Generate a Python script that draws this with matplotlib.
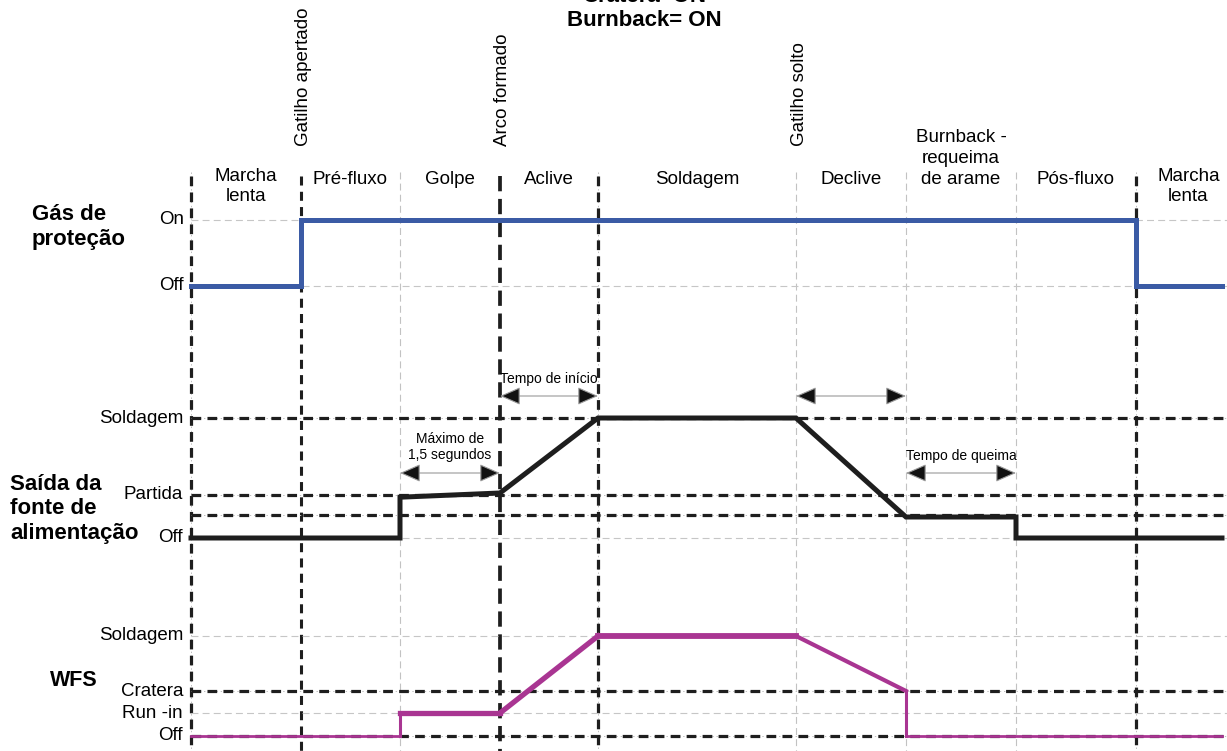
import matplotlib
matplotlib.use('Agg')
import matplotlib.pyplot as plt

plt.rcParams['lines.scale_dashes'] = False
plt.rcParams['font.family'] = ['Liberation Sans', 'DejaVu Sans']
NARROW = ['Liberation Sans Narrow', 'Liberation Sans', 'DejaVu Sans']

# tempos dos eventos (unidades arbitrárias)
event_t = [0, 1.10, 2.09, 3.09, 4.07, 6.05, 7.15, 8.25, 9.45]
t_end = 10.31
event_kind = ['dashdot', 'dash', 'thin', 'long', 'dashdot', 'thin', 'thin', 'thin', 'dashdot']
event_names = {1: 'Gatilho apertado', 3: 'Arco formado', 5: 'Gatilho solto'}

phases = ['Marcha\nlenta', 'Pré-fluxo', 'Golpe', 'Aclive', 'Soldagem', 'Declive',
          'Burnback -\nrequeima\nde arame', 'Pós-fluxo', 'Marcha\nlenta']

# gás de proteção
gas_levels = ['Off', 'On']
gas_vals = [0, 1]
gas_t = [0, 1.10, 1.10, 9.45, 9.45, t_end]
gas_v = [0, 0, 1, 1, 0, 0]

# saída da fonte
pw_labels = ['Soldagem', 'Partida', 'Off']
pw_vals = [100, 36, 0]
pw_crater = 19
pw_t = [0, 2.09, 2.09, 3.09, 4.07, 6.05, 7.15, 8.25, 8.25, t_end]
pw_v = [0, 0, 34, 37.5, 100, 100, 17.5, 17.5, 0, 0]

# WFS
wfs_labels = ['Soldagem', 'Cratera', 'Run -in', 'Off']
wfs_vals = [100, 45, 23, 0]
wfs_t = [0, 2.09, 2.09, 3.09, 4.07, 6.05, 7.15, 7.15, t_end]
wfs_v = [0, 0, 23, 23, 100, 100, 45, 0, 0]
wfs_w = [2.0, 2.2, 3.8, 3.8, 4.2, 3.0, 2.2, 2.0]

W, H = 1227, 751
X0, X1 = -1.91, 10.36

fig = plt.figure(figsize=(W / 100, H / 100), dpi=100)
bg = fig.add_axes([0, 0, 1, 1])
bg.set_xlim(X0, X1)
bg.set_ylim(H, 0)
bg.axis('off')


def panel(v_lo, p_lo, v_hi, p_hi):
    ax = fig.add_axes([0, 0, 1, 1])
    ax.patch.set_alpha(0)
    ax.axis('off')
    s = (v_hi - v_lo) / (p_lo - p_hi)
    ax.set_ylim(v_lo - (H - p_lo) * s, v_lo + p_lo * s)
    ax.set_xlim(X0, X1)
    return ax


def bold_h(ax, y):
    ax.hlines(y, 0, X1, color='#bdbdbd', lw=0.7, linestyles=(0, (1, 2)))
    ax.hlines(y, 0, X1, color='#1e1e1e', lw=2.3, linestyles=(0, (7, 4.5)))


def thin_h(ax, y):
    ax.hlines(y, 0, X1, color='#c6c6c6', lw=0.8, linestyles=(0, (5, 3)))


# linhas verticais dos eventos
for t, k in zip(event_t, event_kind):
    if k == 'thin':
        bg.vlines(t, 172, H, color='#c2c2c2', lw=0.8, linestyles=(0, (5, 3)))
    elif k == 'dash':
        bg.vlines(t, 176, H, color='#1e1e1e', lw=2.2, linestyles=(0, (6.5, 4.5)))
    elif k == 'long':
        bg.vlines(t, 176, H, color='#1e1e1e', lw=2.7, linestyles=(0, (11, 5.5)))
    else:
        bg.vlines(t, 172, H, color='#bdbdbd', lw=0.7, linestyles=(0, (1, 2)))
        bg.vlines(t, 176, H, color='#1e1e1e', lw=2.3, linestyles=(0, (7, 4.5)))

for i, name in event_names.items():
    bg.text(event_t[i] + 0.03, 146, name, rotation=90, ha='center', va='bottom', fontsize=13.5)

bounds = event_t + [10.5]
for i, ph in enumerate(phases):
    xc = (bounds[i] + bounds[i + 1]) / 2
    if ph.startswith('Marcha'):
        bg.text(xc, 168, ph, ha='center', va='top', fontsize=13.5, family=NARROW, linespacing=1.2)
    else:
        bg.text(xc, 184, ph, ha='center', va='baseline', fontsize=13.5, family=NARROW, linespacing=1.3)

bg.text(4.53, -3, 'Cratera=ON', ha='center', va='center', fontsize=16, fontweight='bold')
bg.text(4.53, 20, 'Burnback= ON', ha='center', va='center', fontsize=16, fontweight='bold')

bg.text(-1.59, 227, 'Gás de\nproteção', ha='left', va='center', fontsize=16, fontweight='bold', linespacing=1.2)
bg.text(-1.81, 509, 'Saída da\nfonte de\nalimentação', ha='left', va='center', fontsize=16,
        fontweight='bold', linespacing=1.2)
bg.text(-1.41, 680, 'WFS', ha='left', va='center', fontsize=15.5, fontweight='bold')

# setas de tempo
arrows = [(3.09, 4.07, 396, 'Tempo de início', 379),
          (2.09, 3.09, 473, 'Máximo de\n1,5 segundos', 447),
          (6.05, 7.15, 396, '', 0),
          (7.15, 8.25, 473, 'Tempo de queima', 456)]
for a, b, y, lab, ty in arrows:
    bg.annotate('', xy=(b, y), xytext=(a, y),
                arrowprops=dict(arrowstyle='<|-|>,head_length=0.8,head_width=0.35', fc='#111111',
                                ec='#9a9a9a', lw=0.8, shrinkA=0, shrinkB=0, mutation_scale=16))
    if lab:
        bg.text((a + b) / 2, ty, lab, ha='center', va='center', fontsize=10, family=NARROW,
                linespacing=1.25)

# painel gás
ax_g = panel(0, 286, 1, 220)
for v in gas_vals:
    thin_h(ax_g, v)
for lab, v in zip(gas_levels, gas_vals):
    ax_g.text(-0.07, v, lab, ha='right', va='center', fontsize=13.5)
ax_g.plot(gas_t, gas_v, color='#3b5ba5', lw=3.6, solid_joinstyle='miter')

# painel fonte
ax_p = panel(0, 538, 100, 418)
thin_h(ax_p, 0)
for v in [100, 36, pw_crater]:
    bold_h(ax_p, v)
for lab, v in zip(pw_labels, pw_vals):
    ax_p.text(-0.08, v, lab, ha='right', va='center', fontsize=13.5)
ax_p.plot(pw_t, pw_v, color='#1e1e1e', lw=3.6, solid_joinstyle='miter')

# painel WFS
ax_w = panel(0, 736, 100, 636)
for v in [100, 23]:
    thin_h(ax_w, v)
for v in [45, 0]:
    bold_h(ax_w, v)
for lab, v in zip(wfs_labels, wfs_vals):
    ax_w.text(-0.08, v, lab, ha='right', va='center', fontsize=13.5)
for i in range(len(wfs_t) - 1):
    ax_w.plot(wfs_t[i:i + 2], wfs_v[i:i + 2], color='#a93592', lw=wfs_w[i],
              solid_capstyle='projecting')

fig.savefig('out.png', dpi=100)
